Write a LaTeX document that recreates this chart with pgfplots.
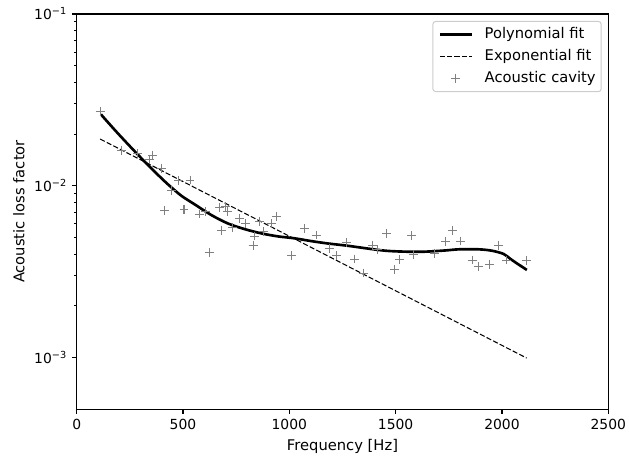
\documentclass[border=0pt]{standalone}
\usepackage{pgfplots}
\pgfplotsset{compat=1.18}
\usepackage{fontspec}
\setmainfont{DejaVu Sans}
\pgfplotsset{
  myline legend/.style={legend image code/.code={\draw[##1] (0pt,0pt) -- (23pt,0pt);}},
  mymark legend/.style={legend image code/.code={\draw[##1] plot coordinates {(11.5pt,0pt)};}},
}
\begin{document}
\begin{tikzpicture}
\path[use as bounding box] (-55.2pt,-36.7pt) rectangle (397.65pt,294.5pt);
\begin{axis}[
  scale only axis, width=382.75pt, height=284.4pt,
  at={(0,0)}, anchor=south west,
  ymode=log, xmin=0, xmax=2500, ymin=5e-4, ymax=1e-1,
  xtick={0,500,1000,1500,2000,2500},
  ytick={1e-3,1e-2,1e-1},
  yticklabels={10\textsuperscript{−3},10\textsuperscript{−2},10\textsuperscript{−1}},
  /pgf/number format/assume math mode=true,
  xticklabel style={/pgf/number format/1000 sep={}},
  tick align=outside, tick pos=left,
  major tick length=3.5pt, minor tick length=2pt,
  every tick/.style={black, line width=0.8pt},
  minor tick style={line width=0.6pt},
  axis line style={line width=0.8pt},
  tick label style={font=\fontsize{10}{12}\selectfont},
  label style={font=\fontsize{10.6}{12}\selectfont},
  xlabel={Frequency [Hz]}, ylabel={Acoustic loss factor},
  legend style={at={(axis description cs:1,1)}, xshift=-4.75pt, yshift=-5pt,
    anchor=north east, draw=black!20, line width=0.7pt, rounded corners=2pt,
    fill=white, fill opacity=0.8, text opacity=1, font=\fontsize{10.6}{12}\selectfont,
    inner xsep=4pt, inner ysep=1.7pt, row sep=0pt,
    nodes={inner xsep=0pt, inner ysep=2.6pt, text height=8pt, text depth=2.5pt},
    /tikz/every odd column/.append style={column sep=8.4pt}},
  legend cell align=left,
]
\addplot[black, line width=1.9pt, smooth, tension=0.5, myline legend] coordinates {
(113.9,0.02604) (179.6,0.02109) (241.9,0.01741) (304.7,0.01443) (367.1,0.01206)
(429.4,0.01018) (492.3,0.00874) (554.6,0.00779) (632.9,0.00675) (710.7,0.00603)
(789,0.00559) (867.3,0.00528) (945.2,0.00507) (1023.4,0.00494) (1101.7,0.00476)
(1179.6,0.00461) (1273.3,0.00447) (1453.4,0.00418) (1609.5,0.00412) (1726.7,0.00419)
(1797,0.00426) (1890.8,0.00426) (1953,0.00418) (2008,0.00400) (2047,0.00369) (2117,0.00323)};
\addlegendentry{Polynomial fit}
\addplot[black, line width=0.75pt, dash pattern=on 3.7pt off 1.6pt, myline legend] coordinates {
(110.6,0.01870) (2116,0.000991)};
\addlegendentry{Exponential fit}
\addplot[only marks, mark=+, mark size=3.2pt, color=black!50, mark options={line width=0.75pt}, mymark legend] coordinates {
(110.4,0.0270) (209.2,0.01613) (286.9,0.01543) (357.5,0.01509) (342.4,0.01424) (399.9,0.01262)
(478.6,0.01069) (533.1,0.01079) (446.3,0.00943) (415.1,0.00721) (504.8,0.00731) (576.5,0.00684)
(607.8,0.00705) (673.3,0.00748) (699.6,0.00754) (707.6,0.00705) (623.9,0.00409) (681.4,0.00551)
(732.9,0.00569) (767.2,0.00645) (795.4,0.00603) (861,0.00622) (877.1,0.00539) (837.8,0.00509)
(829.7,0.00451) (915.5,0.00603) (938.7,0.00665) (1012.3,0.00394) (1071.8,0.00564) (1126.3,0.00516)
(1188.9,0.00432) (1223.2,0.00392) (1269.6,0.00466) (1306.9,0.00374) (1348.3,0.00310) (1390.7,0.00448)
(1415.9,0.00425) (1455.2,0.00528) (1516.8,0.00370) (1496.6,0.00324) (1575.3,0.00510) (1584.4,0.00396)
(1684.3,0.00405) (1734.7,0.00474) (1767,0.00551) (1805.3,0.00476) (1859.8,0.00369) (1891.1,0.00337)
(1942.5,0.00348) (1982.9,0.00451) (2023.2,0.00369) (2117,0.00365)};
\addlegendentry{Acoustic cavity}
\end{axis}
\end{tikzpicture}
\end{document}
